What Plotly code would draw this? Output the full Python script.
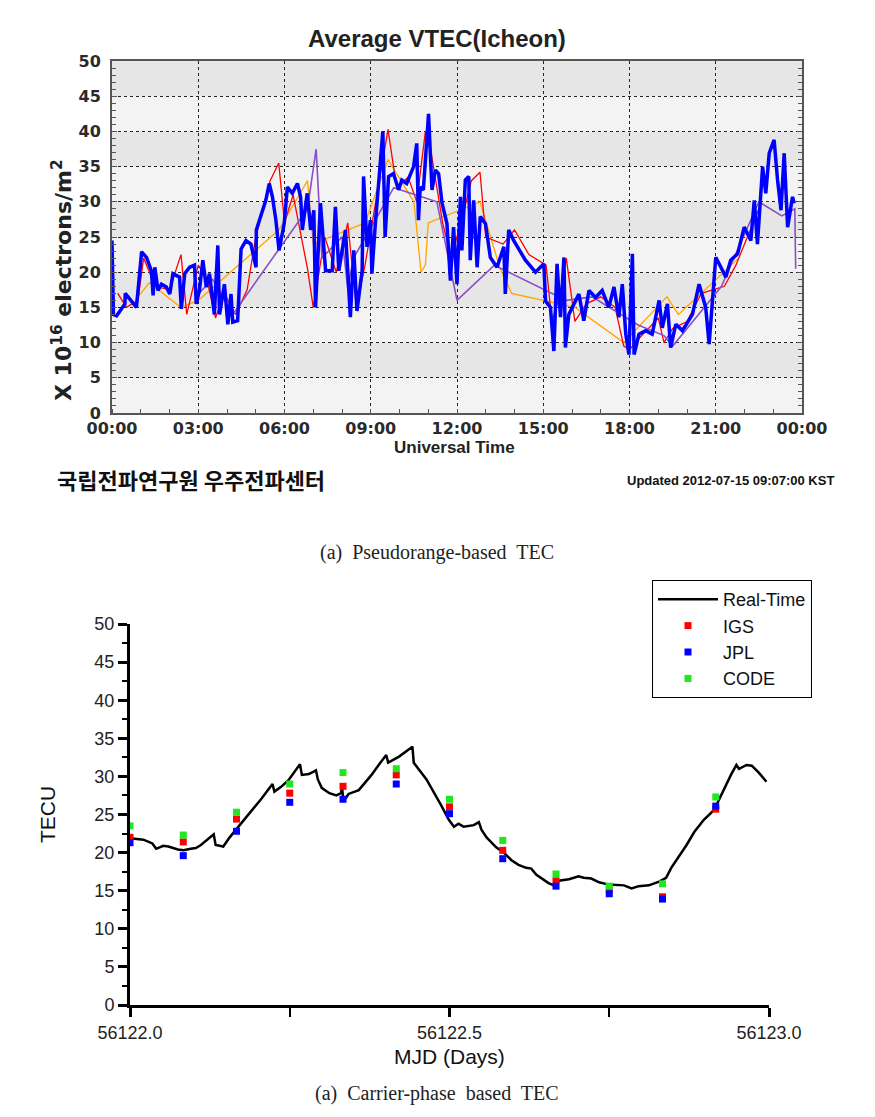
import plotly.graph_objects as go

# ---------------- Top chart: Average VTEC (Icheon) ----------------
hour_ticks = [0, 3, 6, 9, 12, 15, 18, 21, 24]
hour_labels = ["00:00", "03:00", "06:00", "09:00", "12:00", "15:00", "18:00", "21:00", "00:00"]

blue_h = [0.0, 0.05, 0.16, 0.28, 0.45, 0.46, 0.74, 0.85, 1.03, 1.2, 1.37, 1.43, 1.49, 1.6, 1.72, 1.89,
          2.01, 2.12, 2.35, 2.41, 2.53, 2.7, 2.87, 2.93, 3.04, 3.16, 3.28, 3.39, 3.56, 3.68, 3.74, 3.91,
          4.03, 4.14, 4.2, 4.37, 4.49, 4.66, 4.83, 5.01, 5.02, 5.12, 5.35, 5.47, 5.58, 5.7, 5.81, 5.99,
          6.1, 6.27, 6.45, 6.56, 6.62, 6.79, 6.91, 7.02, 7.08, 7.25, 7.43, 7.66, 7.77, 7.89, 8.12, 8.29,
          8.41, 8.52, 8.7, 8.75, 8.87, 8.99, 9.04, 9.16, 9.33, 9.42, 9.5, 9.62, 9.79, 9.97, 10.08, 10.25,
          10.49, 10.6, 10.66, 10.72, 10.83, 11.01, 11.13, 11.25, 11.36, 11.48, 11.65, 11.77, 11.88, 12.0,
          12.12, 12.17, 12.29, 12.41, 12.46, 12.58, 12.7, 12.81, 12.99, 13.16, 13.39, 13.51, 13.63, 13.68,
          13.8, 13.97, 14.38, 14.73, 15.02, 15.08, 15.25, 15.37, 15.48, 15.6, 15.72, 15.77, 15.89, 16.07,
          16.24, 16.41, 16.59, 16.82, 17.05, 17.28, 17.46, 17.63, 17.75, 17.87, 17.98, 18.1, 18.16, 18.33,
          18.56, 18.79, 19.03, 19.14, 19.32, 19.43, 19.61, 19.84, 20.19, 20.42, 20.65, 20.77, 20.88, 21.0,
          21.18, 21.35, 21.52, 21.76, 21.99, 22.22, 22.34, 22.45, 22.63, 22.74, 22.86, 23.03, 23.15, 23.27,
          23.38, 23.5, 23.67, 23.73]
blue_v = [24.5, 14.0, 13.8, 14.5, 15.5, 17.0, 15.5, 15.0, 22.9, 22.1, 20.2, 16.7, 20.7, 17.4, 18.3, 17.9,
          16.9, 19.8, 19.3, 14.8, 19.8, 20.7, 21.0, 15.5, 17.4, 21.7, 17.9, 19.8, 14.0, 23.8, 14.0, 18.3,
          12.6, 16.9, 12.9, 13.1, 23.3, 24.5, 24.0, 20.7, 26.0, 27.4, 30.2, 32.6, 30.7, 27.4, 23.1, 26.9,
          32.1, 31.2, 32.6, 30.7, 26.0, 31.2, 26.0, 28.8, 15.0, 29.8, 20.2, 20.2, 29.3, 20.2, 26.0, 13.6,
          23.1, 14.5, 20.2, 33.6, 23.6, 27.4, 19.8, 26.9, 36.4, 40.0, 25.0, 33.6, 34.0, 31.7, 33.1, 32.6,
          35.0, 38.3, 27.4, 32.1, 31.7, 42.5, 31.7, 34.5, 34.0, 29.8, 26.9, 18.8, 26.4, 18.3,
          30.7, 23.1, 33.1, 33.6, 21.7, 30.2, 20.7, 27.9, 26.9, 22.1, 20.7, 22.1, 23.6, 16.9,
          26.0, 24.5, 21.7, 20.0, 21.2, 15.9, 15.0, 8.8, 21.2, 13.6, 22.1, 9.3, 14.0, 15.5,
          16.9, 13.1, 17.4, 16.4, 17.4, 15.0, 17.9, 13.6, 18.3, 11.2, 8.3, 22.6, 8.3, 11.2,
          11.7, 11.2, 16.0, 12.1, 15.5, 9.3, 12.6, 11.7, 14.0, 18.3, 15.0, 9.8, 16.4, 22.1,
          20.7, 19.3, 21.7, 22.6, 26.4, 24.5, 30.2, 24.0, 35.0, 31.2, 36.9, 38.8, 33.1, 28.8,
          36.9, 26.4, 30.7, 29.8]

red_h = [0.2, 0.5, 0.9, 1.1, 1.5, 2.0, 2.4, 2.6, 3.0, 3.3, 3.6, 3.9, 4.3, 4.7, 5.0, 5.5, 5.8, 6.0, 6.3,
         6.8, 7.0, 7.4, 7.8, 8.2, 8.5, 8.8, 9.3, 9.6, 9.9, 10.3, 10.6, 10.9, 11.1, 11.5, 11.8, 12.2,
         12.5, 12.8, 13.0, 13.6, 14.0, 14.5, 15.1, 15.3, 15.6, 15.8, 16.1, 16.5, 17.0, 17.5, 17.8, 18.0,
         18.2, 19.0, 19.2, 19.5, 20.0, 20.5, 21.3, 21.7, 22.3, 22.6]
red_v = [17.0, 15.0, 16.0, 22.0, 18.0, 17.5, 22.5, 14.0, 21.0, 19.0, 13.5, 17.0, 14.0, 17.5, 25.0, 33.0,
         35.5, 27.0, 31.0, 20.5, 15.0, 25.0, 20.0, 27.0, 15.0, 21.0, 33.0, 40.3, 32.0, 33.5, 30.0, 40.0,
         37.0, 27.0, 22.0, 28.0, 33.0, 34.2, 25.0, 24.0, 26.0, 22.5, 21.0, 13.0, 17.0, 22.0, 13.0, 15.5,
         16.5, 15.0, 9.5, 9.0, 10.0, 13.5, 10.0, 12.0, 13.0, 17.0, 18.0, 21.0, 27.0, 30.0]

orange_h = [0.8, 1.3, 2.4, 3.0, 5.8, 6.5, 6.8, 7.0, 8.8, 9.6, 10.5, 10.75, 10.9, 11.0, 12.8, 13.5,
            13.9, 16.1, 17.8, 19.3, 19.7, 21.8]
orange_v = [16.0, 18.5, 15.0, 16.0, 26.0, 31.0, 33.0, 24.0, 27.0, 36.0, 30.0, 20.0, 21.0, 27.0, 30.0,
            20.5, 17.0, 15.0, 10.0, 16.5, 14.0, 22.0]

purple_h = [2.9, 3.5, 4.2, 6.8, 7.1, 7.3, 8.0, 8.2, 8.4, 9.8, 11.3, 12.0, 13.3, 15.8, 16.7, 18.3,
            19.2, 19.5, 20.6, 21.2, 22.5, 23.3, 23.75, 23.78]
purple_v = [16.5, 19.0, 14.0, 29.0, 37.5, 22.0, 25.0, 17.7, 22.0, 32.0, 30.0, 16.0, 21.0, 16.0, 16.5,
            12.5, 11.0, 9.5, 15.0, 18.0, 30.0, 28.0, 29.0, 20.5]

# ---------------- Bottom chart: carrier-phase TEC ----------------
MJD0 = 56122.0
rt_frac = [0.0, 0.021, 0.035, 0.041, 0.052, 0.060, 0.075, 0.084, 0.095, 0.103, 0.111, 0.119, 0.131,
           0.134, 0.139, 0.146, 0.156, 0.166, 0.182, 0.205, 0.223, 0.226, 0.236, 0.248, 0.266, 0.269,
           0.280, 0.291, 0.294, 0.300, 0.312, 0.323, 0.330, 0.332, 0.334, 0.342, 0.358, 0.366, 0.378,
           0.390, 0.401, 0.404, 0.421, 0.442, 0.444, 0.464, 0.475, 0.487, 0.499, 0.507, 0.514, 0.522,
           0.538, 0.546, 0.550, 0.558, 0.573, 0.585, 0.597, 0.608, 0.620, 0.628, 0.636, 0.655, 0.663,
           0.671, 0.687, 0.702, 0.710, 0.722, 0.734, 0.749, 0.773, 0.785, 0.796, 0.812, 0.828, 0.839,
           0.847, 0.859, 0.871, 0.883, 0.898, 0.914, 0.930, 0.941, 0.949, 0.953, 0.965, 0.973, 0.984, 0.996]
rt_tec = [21.9, 21.7, 21.2, 20.5, 20.9, 20.8, 20.4, 20.3, 20.5, 20.6, 21.0, 21.6, 22.4, 21.0, 20.9,
          20.8, 22.0, 23.0, 24.6, 27.0, 29.0, 28.0, 28.6, 29.5, 31.6, 30.2, 30.3, 30.8, 29.6, 28.5,
          27.8, 27.5, 27.8, 28.5, 26.7, 27.7, 28.2, 29.0, 30.2, 31.6, 32.8, 31.8, 32.6, 33.9, 31.8,
          29.6, 28.0, 26.2, 24.3, 23.4, 23.8, 23.4, 23.6, 24.0, 23.0, 22.0, 20.7, 20.0, 19.0, 18.4,
          18.0, 17.9, 17.1, 16.0, 15.7, 16.3, 16.5, 16.9, 16.7, 16.6, 16.1, 15.8, 15.7, 15.3, 15.6,
          15.7, 16.2, 16.7, 18.0, 19.5, 21.0, 22.7, 24.3, 25.6, 28.5, 30.3, 31.5, 31.0, 31.5, 31.4,
          30.5, 29.3]

gim_frac = [0.0, 1/12, 2/12, 3/12, 4/12, 5/12, 6/12, 7/12, 8/12, 9/12, 10/12, 11/12]
igs = [22.0, 21.4, 24.4, 27.8, 28.7, 30.2, 26.0, 20.3, 16.3, 15.1, 14.2, 25.7]
jpl = [21.3, 19.6, 22.8, 26.6, 27.0, 29.0, 25.1, 19.2, 15.6, 14.6, 13.9, 26.1]
code = [23.5, 22.3, 25.3, 29.0, 30.5, 31.0, 27.0, 21.6, 17.2, 15.6, 15.9, 27.3]

W, H = 875, 1117
def px(x):
    return x / W
def py(y):
    return 1 - y / H

fig = go.Figure()

# top traces
for hh, vv, col, wd in [(orange_h, orange_v, "#ffa500", 1.3),
                        (red_h, red_v, "#ff0000", 1.3),
                        (purple_h, purple_v, "#8a4fc8", 1.6),
                        (blue_h, blue_v, "#0000ff", 3.5)]:
    fig.add_trace(go.Scatter(x=hh, y=vv, mode="lines", line=dict(color=col, width=wd),
                             xaxis="x", yaxis="y", showlegend=False, hoverinfo="skip"))

# bottom traces
fig.add_trace(go.Scatter(x=[MJD0 + f for f in rt_frac], y=rt_tec, mode="lines", name="Real-Time",
                         line=dict(color="black", width=2.5), xaxis="x2", yaxis="y2"))
gx = [MJD0 + f for f in gim_frac]
fig.add_trace(go.Scatter(x=gx, y=igs, mode="markers", name="IGS",
                         marker=dict(symbol="square", size=7, color="#ff0000"), xaxis="x2", yaxis="y2"))
fig.add_trace(go.Scatter(x=gx, y=jpl, mode="markers", name="JPL",
                         marker=dict(symbol="square", size=7, color="#0000ff"), xaxis="x2", yaxis="y2"))
fig.add_trace(go.Scatter(x=gx, y=code, mode="markers", name="CODE",
                         marker=dict(symbol="square", size=7, color="#22e622"), xaxis="x2", yaxis="y2"))

# background bands top chart
shapes = []
for lo in range(0, 50, 5):
    dark = (lo // 5) % 2 == 1
    shapes.append(dict(type="rect", xref="x", yref="y", x0=0, x1=24, y0=lo, y1=lo + 5,
                       fillcolor="#e6e6e6" if dark else "#f3f3f3", line=dict(width=0), layer="below"))

topfont = dict(family="DejaVu Sans", size=16, color="#2a2a2a", weight="bold")
botfont = dict(family="Liberation Sans", size=18, color="#222")

fig.update_layout(
    width=W, height=H, margin=dict(l=0, r=0, t=0, b=0, autoexpand=False),
    paper_bgcolor="white", plot_bgcolor="white",
    shapes=shapes,
    xaxis=dict(domain=[px(112), px(802)], anchor="y", range=[0, 24], automargin=False,
               tickmode="array", tickvals=hour_ticks, ticktext=hour_labels,
               showgrid=True, griddash="dot", gridcolor="#222", gridwidth=1,
               showline=True, linecolor="#555", linewidth=2, mirror=True,
               ticks="", tickfont=topfont, zeroline=False,
               minor=dict(dtick=1, ticks="inside", ticklen=4, tickcolor="#555", showgrid=False)),
    yaxis=dict(domain=[py(413), py(61)], anchor="x", range=[0, 50], dtick=5, automargin=False,
               showgrid=True, griddash="dot", gridcolor="#222", gridwidth=1,
               showline=True, linecolor="#555", linewidth=2, mirror="ticks",
               ticks="inside", ticklen=5, tickcolor="#555", tickfont=topfont, zeroline=False,
               ticklabelstandoff=6,
               minor=dict(dtick=1, ticks="inside", ticklen=4, tickcolor="#555", showgrid=False)),
    xaxis2=dict(domain=[px(130), px(769)], anchor="y2", range=[56122, 56123], tick0=56122, dtick=0.5,
                tickformat=".1f", showgrid=False, zeroline=False, automargin=False,
                showline=True, linecolor="black", linewidth=3,
                ticks="outside", ticklen=9, tickwidth=3, tickcolor="black", tickfont=botfont,
                minor=dict(dtick=0.25, ticks="outside", ticklen=9, tickwidth=2, tickcolor="black")),
    yaxis2=dict(domain=[py(1005), py(624)], anchor="x2", range=[0, 50], dtick=5,
                showgrid=False, zeroline=False, automargin=False,
                showline=True, linecolor="black", linewidth=3,
                ticks="outside", ticklen=9, tickwidth=3, tickcolor="black", tickfont=botfont,
                minor=dict(dtick=2.5, ticks="outside", ticklen=5, tickwidth=2, tickcolor="black")),
    legend=dict(x=px(652), y=py(580), xanchor="left", yanchor="top",
                bgcolor="white", bordercolor="black", borderwidth=1,
                font=dict(family="Liberation Sans", size=18, color="#111"),
                tracegroupgap=0, itemwidth=60),
    showlegend=True,
)

ann = [
    dict(text="<b>Average VTEC(Icheon)</b>", x=px(437), y=py(38),
         font=dict(family="Liberation Sans", size=24, color="#222")),
    dict(text="<b>X 10<sup>16</sup> electrons/m<sup>2</sup></b>", x=px(62), y=py(280), textangle=-90,
         font=dict(family="DejaVu Sans", size=22, color="#222")),
    dict(text="<b>Universal Time</b>", x=px(454), y=py(447),
         font=dict(family="Liberation Sans", size=17, color="#222")),
    dict(text="<b>국립전파연구원 우주전파센터</b>", x=px(55), y=py(479), xanchor="left",
         font=dict(family="Noto Sans CJK KR", size=22, color="#111")),
    dict(text="<b>Updated 2012-07-15 09:07:00 KST</b>", x=px(836), y=py(480), xanchor="right",
         font=dict(family="Liberation Sans", size=13, color="#111")),
    dict(text="(a)  Pseudorange-based  TEC", x=px(437), y=py(552),
         font=dict(family="Liberation Serif", size=20, color="#222")),
    dict(text="TECU", x=px(47), y=py(815), textangle=-90,
         font=dict(family="Liberation Sans", size=21, color="#111")),
    dict(text="MJD (Days)", x=px(450), y=py(1056),
         font=dict(family="Liberation Sans", size=21, color="#111")),
    dict(text="(a)  Carrier-phase  based  TEC", x=px(437), y=py(1093),
         font=dict(family="Liberation Serif", size=20, color="#222")),
]
for a in ann:
    a.setdefault("xanchor", "center")
    a.update(xref="paper", yref="paper", yanchor="middle", showarrow=False)
fig.update_layout(annotations=ann)

fig.write_html("out.html")
